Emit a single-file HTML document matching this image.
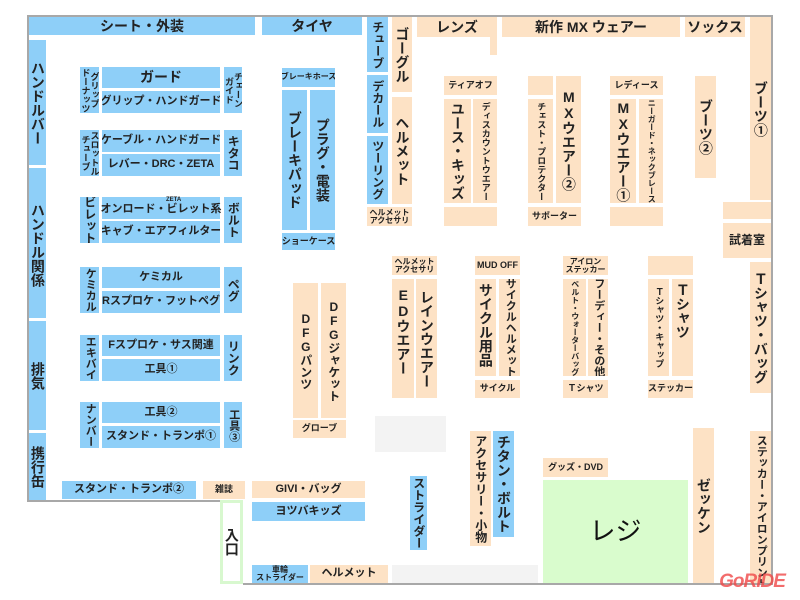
<!DOCTYPE html>
<html><head><meta charset="utf-8"><style>
*{margin:0;padding:0;box-sizing:border-box}
body{width:800px;height:600px;background:#fff;position:relative;overflow:hidden;font-family:"Liberation Sans","Noto Sans CJK JP",sans-serif;font-weight:bold;color:#222}
.b{position:absolute;display:flex;align-items:center;justify-content:center;text-align:center;line-height:1.05;font-size:11px;white-space:nowrap;overflow:hidden}
.u{background:#8ecff8}
.p{background:#fde2c5}
.v{writing-mode:vertical-rl;text-orientation:upright;letter-spacing:0}
.L{font-size:14px}
.M{font-size:12px}
.S{font-size:9px}
.T{font-size:8px}
.ln{position:absolute;background:#a8a8a8}
</style></head><body>
<div class="ln" style="left:27px;top:15px;width:746px;height:2px"></div>
<div class="ln" style="left:27px;top:15px;width:2px;height:487px"></div>
<div class="ln" style="left:771px;top:15px;width:2px;height:570px"></div>
<div class="ln" style="left:27px;top:500px;width:195px;height:2px"></div>
<div class="ln" style="left:243px;top:583px;width:530px;height:2px"></div>

<div class="b u L" style="left:29px;top:17px;width:226px;height:18px">シート・外装</div>
<div class="b u L" style="left:262px;top:17px;width:100px;height:18px">タイヤ</div>

<div class="b u v L" style="left:29px;top:40px;width:17px;height:125px">ハンドルバー</div>
<div class="b u v L" style="left:29px;top:168px;width:17px;height:150px;justify-content:flex-start;padding-top:35px">ハンドル関係</div>
<div class="b u v L" style="left:29px;top:321px;width:17px;height:109px">排気</div>
<div class="b u v L" style="left:29px;top:433px;width:17px;height:67px">携行缶</div>

<div class="b u v S" style="left:80px;top:67px;width:19px;height:46px;line-height:1">グリップ<br>ドーナッツ</div>
<div class="b u L" style="left:102px;top:67px;width:118px;height:21px">ガード</div>
<div class="b u" style="left:102px;top:91px;width:118px;height:22px">グリップ・ハンドガード</div>
<div class="b u v S" style="left:224px;top:67px;width:18px;height:46px;line-height:1">チェーン<br>ガイド</div>
<div class="b u v S" style="left:80px;top:130px;width:19px;height:46px;line-height:1">スロットル<br>チューブ</div>
<div class="b u" style="left:102px;top:130px;width:118px;height:22px">ケーブル・ハンドガード</div>
<div class="b u" style="left:102px;top:154px;width:118px;height:22px">レバー・DRC・ZETA</div>
<div class="b u v M" style="left:224px;top:130px;width:18px;height:46px">キタコ</div>
<div class="b u v M" style="left:80px;top:197px;width:19px;height:46px">ビレット</div>
<div class="b u" style="left:102px;top:197px;width:118px;height:22px;padding-top:3px;overflow:visible">オンロード・ビレット系<span style="position:absolute;top:0;left:64px;font-size:6px">ZETA</span></div>
<div class="b u" style="left:102px;top:221px;width:118px;height:22px">キャブ・エアフィルター</div>
<div class="b u v M" style="left:224px;top:197px;width:18px;height:46px">ボルト</div>
<div class="b u v" style="left:80px;top:267px;width:19px;height:46px">ケミカル</div>
<div class="b u" style="left:102px;top:267px;width:118px;height:21px">ケミカル</div>
<div class="b u" style="left:102px;top:291px;width:118px;height:22px">Rスプロケ・フットペグ</div>
<div class="b u v M" style="left:224px;top:267px;width:18px;height:46px">ペグ</div>
<div class="b u v" style="left:80px;top:335px;width:19px;height:46px">エキバイ</div>
<div class="b u" style="left:102px;top:335px;width:118px;height:21px">Fスプロケ・サス関連</div>
<div class="b u" style="left:102px;top:359px;width:118px;height:22px">工具①</div>
<div class="b u v M" style="left:224px;top:335px;width:18px;height:46px">リンク</div>
<div class="b u v" style="left:80px;top:402px;width:19px;height:46px">ナンバー</div>
<div class="b u" style="left:102px;top:402px;width:118px;height:21px">工具②</div>
<div class="b u" style="left:102px;top:426px;width:118px;height:22px">スタンド・トランポ①</div>
<div class="b u v" style="left:224px;top:402px;width:18px;height:46px">工具③</div>

<div class="b u" style="left:62px;top:481px;width:134px;height:18px">スタンド・トランポ②</div>
<div class="b p S" style="left:203px;top:481px;width:42px;height:18px">雑誌</div>
<div class="b p" style="left:252px;top:481px;width:113px;height:17px">GIVI・バッグ</div>
<div class="b u" style="left:252px;top:502px;width:113px;height:19px">ヨツバキッズ</div>
<div class="b v L" style="left:220px;top:500px;width:23px;height:84px;border:3px solid #d8f8cf;background:#fff">入口</div>
<div class="b u T" style="left:252px;top:565px;width:56px;height:18px;line-height:1">車輪<br>ストライダー</div>
<div class="b p" style="left:310px;top:565px;width:78px;height:18px">ヘルメット</div>
<div class="b" style="left:392px;top:565px;width:146px;height:18px;background:#f3f3f3"></div>

<div class="b u T" style="left:282px;top:68px;width:53px;height:19px">ブレーキホース</div>
<div class="b u v L" style="left:282px;top:90px;width:25px;height:140px">ブレーキパッド</div>
<div class="b u v L" style="left:310px;top:90px;width:25px;height:140px">プラグ・電装</div>
<div class="b u S" style="left:282px;top:233px;width:53px;height:17px">ショーケース</div>

<div class="b p v M" style="left:293px;top:283px;width:25px;height:135px">DFGパンツ</div>
<div class="b p v M" style="left:321px;top:283px;width:25px;height:135px">DFGジャケット</div>
<div class="b p S" style="left:293px;top:420px;width:53px;height:18px">グローブ</div>

<div class="b u v M" style="left:367px;top:17px;width:21px;height:55px">チューブ</div>
<div class="b u v M" style="left:367px;top:75px;width:21px;height:58px">デカール</div>
<div class="b u v M" style="left:367px;top:136px;width:21px;height:68px">ツーリング</div>
<div class="b p T" style="left:367px;top:207px;width:45px;height:19px;line-height:1">ヘルメット<br>アクセサリ</div>
<div class="b p v L" style="left:392px;top:17px;width:20px;height:75px">ゴーグル</div>
<div class="b p v L" style="left:392px;top:97px;width:20px;height:107px">ヘルメット</div>

<div class="b p L" style="left:417px;top:17px;width:80px;height:20px">レンズ</div>
<div class="b p" style="left:490px;top:37px;width:7px;height:18px"></div>
<div class="b p L" style="left:502px;top:17px;width:178px;height:20px">新作 MX ウェアー</div>
<div class="b p L" style="left:685px;top:17px;width:60px;height:20px">ソックス</div>
<div class="b p v L" style="left:750px;top:17px;width:21px;height:183px">ブーツ①</div>

<div class="b p S" style="left:444px;top:76px;width:53px;height:19px">ティアオフ</div>
<div class="b p v L" style="left:444px;top:99px;width:27px;height:104px">ユース・キッズ</div>
<div class="b p v S" style="left:473px;top:99px;width:24px;height:104px">ディスカウントウエアー</div>
<div class="b p" style="left:444px;top:207px;width:53px;height:19px"></div>

<div class="b p" style="left:528px;top:76px;width:25px;height:19px"></div>
<div class="b p v S" style="left:528px;top:99px;width:25px;height:104px">チェスト・プロテクター</div>
<div class="b p v L" style="left:556px;top:76px;width:25px;height:127px">MXウエアー②</div>
<div class="b p S" style="left:528px;top:207px;width:53px;height:19px">サポーター</div>

<div class="b p S" style="left:610px;top:76px;width:53px;height:19px">レディース</div>
<div class="b p v L" style="left:610px;top:99px;width:26px;height:104px">MXウエアー①</div>
<div class="b p v T" style="left:639px;top:99px;width:24px;height:104px">ニーガード・ネックブレース</div>
<div class="b p" style="left:610px;top:207px;width:53px;height:19px"></div>

<div class="b p v L" style="left:695px;top:76px;width:21px;height:102px">ブーツ②</div>
<div class="b p" style="left:723px;top:202px;width:48px;height:17px"></div>
<div class="b p M" style="left:723px;top:223px;width:48px;height:35px">試着室</div>

<div class="b p T" style="left:392px;top:256px;width:45px;height:19px;line-height:1">ヘルメット<br>アクセサリ</div>
<div class="b p v L" style="left:392px;top:279px;width:22px;height:119px;justify-content:flex-start;padding-top:8px">EDウエアー</div>
<div class="b p v L" style="left:416px;top:279px;width:21px;height:119px">レインウエアー</div>

<div class="b p S" style="left:475px;top:256px;width:45px;height:19px">MUD OFF</div>
<div class="b p v L" style="left:475px;top:279px;width:21px;height:97px;justify-content:flex-start;padding-top:4px">サイクル用品</div>
<div class="b p v" style="left:499px;top:279px;width:21px;height:97px">サイクルヘルメット</div>
<div class="b p S" style="left:475px;top:380px;width:45px;height:18px">サイクル</div>

<div class="b p T" style="left:563px;top:256px;width:45px;height:19px;line-height:1">アイロン<br>ステッカー</div>
<div class="b p v T" style="left:563px;top:279px;width:23px;height:97px">ベルト・ウォーターバッグ</div>
<div class="b p v" style="left:588px;top:279px;width:20px;height:97px">フーディー・その他</div>
<div class="b p S" style="left:563px;top:380px;width:45px;height:18px">Ｔシャツ</div>

<div class="b p" style="left:648px;top:256px;width:45px;height:19px"></div>
<div class="b p v S" style="left:648px;top:279px;width:21px;height:97px">Ｔシャツ・キャップ</div>
<div class="b p v L" style="left:672px;top:279px;width:21px;height:97px;justify-content:flex-start;padding-top:4px">Ｔシャツ</div>
<div class="b p S" style="left:648px;top:380px;width:45px;height:18px">ステッカー</div>

<div class="b p v L" style="left:750px;top:262px;width:21px;height:131px">Ｔシャツ・バッグ</div>

<div class="b" style="left:375px;top:416px;width:71px;height:36px;background:#f3f3f3"></div>
<div class="b p v M" style="left:470px;top:431px;width:21px;height:115px">アクセサリー・小物</div>
<div class="b u v L" style="left:493px;top:431px;width:21px;height:106px">チタン・ボルト</div>
<div class="b u v M" style="left:410px;top:476px;width:17px;height:74px">ストライダー</div>

<div class="b p S" style="left:543px;top:458px;width:65px;height:19px">グッズ・DVD</div>
<div class="b" style="left:543px;top:480px;width:145px;height:103px;background:#d9fccd;font-size:26px;font-weight:normal;color:#111">レジ</div>
<div class="b p v L" style="left:693px;top:428px;width:21px;height:155px">ゼッケン</div>
<div class="b p v" style="left:750px;top:431px;width:21px;height:152px;justify-content:flex-start;padding-top:4px">ステッカー・アイロンプリント</div>

<div class="b" style="left:712px;top:572px;width:80px;height:20px;font-size:19px;font-style:italic;color:#f04848;opacity:0.8;letter-spacing:-1px;font-family:'Liberation Sans',sans-serif;overflow:visible">GoRIDE</div>
</body></html>
